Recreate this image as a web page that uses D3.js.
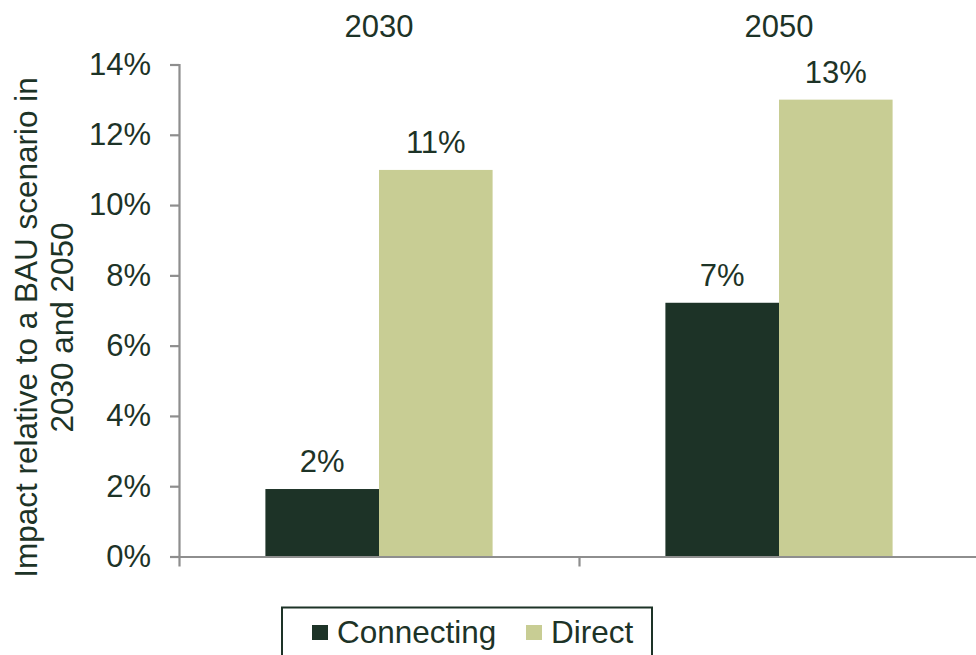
<!DOCTYPE html>
<html>
<head>
<meta charset="utf-8">
<script src="https://cdn.jsdelivr.net/npm/d3@7"></script>
<style>
  html, body { margin: 0; padding: 0; background: #fff; }
  svg { display: block; font-family: "Liberation Sans", Arial, sans-serif; }
</style>
</head>
<body>
<svg id="chart" width="976" height="655"></svg>
<script>
const categories = ["2030", "2050"];
const seriesNames = ["Connecting", "Direct"];
const connecting = [1.92, 7.22];
const direct = [11.0, 13.0];
const valueLabels = [["2%", "11%"], ["7%", "13%"]];
const yTicks = [0, 2, 4, 6, 8, 10, 12, 14];
const yTitleLines = ["Impact relative to a BAU scenario in", "2030 and 2050"];

const colors = { Connecting: "#1d3327", Direct: "#c8cd94" };
const textColor = "#1d3327";
const axisColor = "#8e8e8e";

const svg = d3.select("#chart");

const x0 = d3.scaleBand().domain(categories).range([179, 979]).paddingInner(0).paddingOuter(0);
const bw = x0.bandwidth();
const x1 = d3.scaleBand().domain(seriesNames).range([bw * 0.216, bw * 0.784]).padding(0);
const y = d3.scaleLinear().domain([0, 14]).range([556.5, 64.5]);

const data = categories.map((c, i) => ({
  cat: c,
  values: [
    { s: "Connecting", v: connecting[i], label: valueLabels[i][0] },
    { s: "Direct", v: direct[i], label: valueLabels[i][1] }
  ]
}));

// bars
const groups = svg.append("g").selectAll("g").data(data).join("g")
  .attr("transform", d => `translate(${x0(d.cat)},0)`);

groups.selectAll("rect").data(d => d.values).join("rect")
  .attr("x", d => x1(d.s))
  .attr("width", x1.bandwidth())
  .attr("y", d => y(d.v))
  .attr("height", d => y(0) - y(d.v))
  .attr("fill", d => colors[d.s]);

groups.selectAll("text.val").data(d => d.values).join("text")
  .attr("class", "val")
  .attr("x", d => x1(d.s) + x1.bandwidth() / 2)
  .attr("y", d => y(d.v) - 17)
  .attr("text-anchor", "middle")
  .attr("font-size", 31)
  .attr("fill", textColor)
  .text(d => d.label);

// category labels on top
svg.append("g").selectAll("text").data(categories).join("text")
  .attr("x", d => x0(d) + bw / 2)
  .attr("y", 37)
  .attr("text-anchor", "middle")
  .attr("font-size", 31)
  .attr("fill", textColor)
  .text(d => d);

// y axis
const yAxis = d3.axisLeft(y).tickValues(yTicks).tickFormat(d => d + "%").tickSize(9).tickPadding(19);
const gy = svg.append("g").attr("transform", "translate(179,0)").call(yAxis);
gy.select(".domain").attr("stroke", axisColor).attr("stroke-width", 2.2);
gy.selectAll(".tick line").attr("stroke", axisColor).attr("stroke-width", 2.2);
gy.selectAll(".tick text").attr("font-size", 31).attr("fill", textColor)
  .attr("font-family", "Liberation Sans, Arial, sans-serif");

// x axis (line with boundary ticks)
const xEdges = d3.scaleLinear().domain([0, categories.length]).range([179, 979]);
const gx = svg.append("g").attr("transform", `translate(0,${y(0)})`)
  .call(d3.axisBottom(xEdges).tickValues(d3.range(categories.length + 1)).tickSize(10).tickSizeOuter(0).tickFormat(""));
gx.select(".domain").attr("stroke", axisColor).attr("stroke-width", 2.2);
gx.selectAll(".tick line").attr("stroke", axisColor).attr("stroke-width", 2.2);

// y title
const yt = svg.append("text")
  .attr("transform", "translate(0,327.5) rotate(-90)")
  .attr("text-anchor", "middle")
  .attr("font-size", 31.5)
  .attr("fill", textColor);
yt.selectAll("tspan").data(yTitleLines).join("tspan")
  .attr("x", 0)
  .attr("y", (d, i) => 37 + i * 36)
  .text(d => d);

// legend
const lg = svg.append("g");
lg.append("rect")
  .attr("x", 282).attr("y", 607.5).attr("width", 370).attr("height", 60)
  .attr("fill", "#fff").attr("stroke", textColor).attr("stroke-width", 2);
const legendX = { Connecting: 312, Direct: 526 };
const li = lg.selectAll("g.item").data(seriesNames).join("g").attr("class", "item");
li.append("rect")
  .attr("x", d => legendX[d]).attr("y", 625).attr("width", 16).attr("height", 15)
  .attr("fill", d => colors[d]);
li.append("text")
  .attr("x", d => legendX[d] + 25).attr("y", 643)
  .attr("font-size", 31.5)
  .attr("fill", textColor)
  .text(d => d);
</script>
</body>
</html>
